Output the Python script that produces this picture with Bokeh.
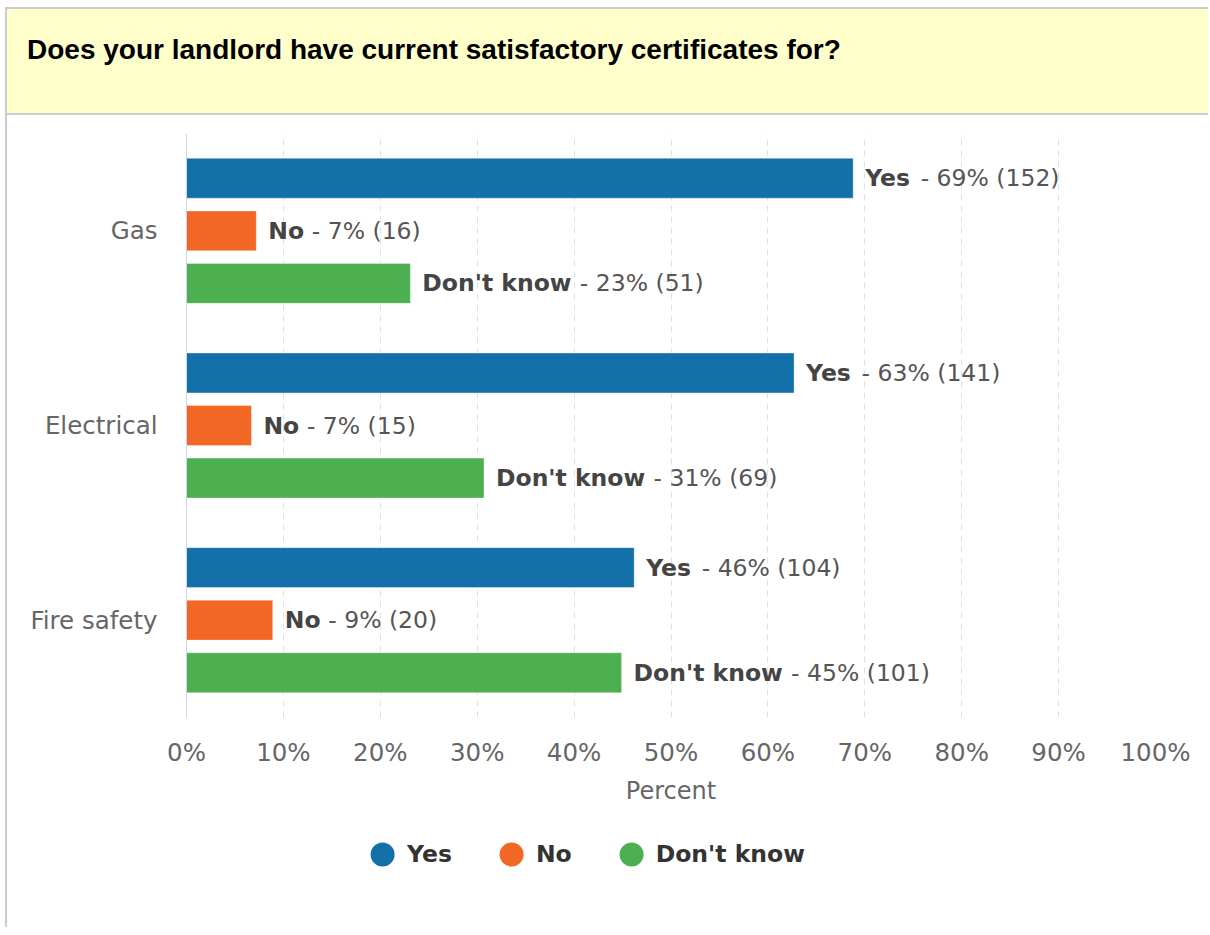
import numpy as np
from bokeh.plotting import figure
from bokeh.models import (Range1d, FactorRange, FixedTicker, PrintfTickFormatter,
                          ColumnDataSource, Legend, LegendItem, Div)
from bokeh.transform import dodge
from bokeh.layouts import column, row
from bokeh.core.properties import value
from bokeh.embed import file_html
from bokeh.resources import INLINE

# ---------------- data ----------------
title_text = "Does your landlord have current satisfactory certificates for?"
categories = ["Gas", "Electrical", "Fire safety"]
series = ["Yes", "No", "Don't know"]
yes_pct = [68.8, 62.7, 46.2]
no_pct = [7.2, 6.7, 8.9]
dk_pct = [23.1, 30.7, 44.9]
yes_count = [152, 141, 104]
no_count = [16, 15, 20]
dk_count = [51, 69, 101]
x_ticks = [0, 10, 20, 30, 40, 50, 60, 70, 80, 90, 100]
x_label = "Percent"

# ---------------- styles ----------------
colors = ["#1470a8", "#f26724", "#4caf50"]
offsets = [0.27, 0.0, -0.27]          # vertical dodge within a group
bold_widths = [48, 36, 150]           # px width of bold series name
SPACE = 7.5                           # px width of a space
FONT = "DejaVu Sans"
FS = "23.5px"
FS_AX = "24.5px"

W = 1201
HEAD_H = 108
MAIN_H = 700
LEG_H = 112
LEG_W = 1022

p = figure(width=W, height=MAIN_H, output_backend="svg", toolbar_location=None,
           x_range=Range1d(0, 100), y_range=FactorRange(*categories[::-1], range_padding=0),
           min_border_left=179, min_border_right=53, min_border_top=18, min_border_bottom=98)
p.outline_line_color = None
p.background_fill_color = "white"
p.border_fill_color = "white"

# bars + labels
pcts = [yes_pct, no_pct, dk_pct]
counts = [yes_count, no_count, dk_count]
for s, name in enumerate(series):
    src = ColumnDataSource(dict(
        cat=categories,
        pct=pcts[s],
        name=[name] * len(categories),
        rest=["- %d%% (%d)" % (round(v), c) for v, c in zip(pcts[s], counts[s])],
    ))
    y = dodge("cat", offsets[s], range=p.y_range)
    p.hbar(y=y, right="pct", left=0, height=0.205, source=src,
           fill_color=colors[s], line_color="white", line_alpha=0.35, line_width=1)
    p.text(x="pct", y=y, text="name", source=src, x_offset=12,
           text_font=value(FONT), text_font_size=FS, text_font_style="bold",
           text_color="#444444", text_baseline="middle", text_align="left")
    p.text(x="pct", y=y, text="rest", source=src, x_offset=12 + bold_widths[s] + SPACE,
           text_font=value(FONT), text_font_size=FS,
           text_color="#555555", text_baseline="middle", text_align="left")

# axes
p.xaxis.ticker = FixedTicker(ticks=x_ticks)
p.xaxis.formatter = PrintfTickFormatter(format="%d%%")
p.xaxis.axis_label = x_label
p.xaxis.axis_line_color = None
p.xaxis.major_tick_line_color = None
p.xaxis.minor_tick_line_color = None
p.xaxis.major_label_text_font = FONT
p.xaxis.major_label_text_font_size = FS_AX
p.xaxis.major_label_text_color = "#666666"
p.xaxis.major_label_standoff = 14
p.xaxis.axis_label_text_font = FONT
p.xaxis.axis_label_text_font_size = "24px"
p.xaxis.axis_label_text_font_style = "normal"
p.xaxis.axis_label_text_color = "#666666"
p.xaxis.axis_label_standoff = 7

p.yaxis.axis_line_color = "#ccd6eb"
p.yaxis.axis_line_width = 1
p.yaxis.major_tick_line_color = None
p.yaxis.minor_tick_line_color = None
p.yaxis.major_label_text_font = FONT
p.yaxis.major_label_text_font_size = FS_AX
p.yaxis.major_label_text_color = "#666666"
p.yaxis.major_label_standoff = 23

p.ygrid.grid_line_color = None
p.xgrid.grid_line_color = "#e0e0e0"
p.xgrid.grid_line_dash = "6 5"
p.xgrid.grid_line_width = 1

# legend in its own strip below the chart, with circle markers
lf = figure(width=LEG_W, height=LEG_H, output_backend="svg", toolbar_location=None,
            x_range=Range1d(0, 1), y_range=Range1d(0, 1),
            min_border=0, min_border_left=0, min_border_right=0,
            min_border_top=0, min_border_bottom=0)
lf.axis.visible = False
lf.grid.visible = False
lf.outline_line_color = None
lf.background_fill_color = "white"
lf.border_fill_color = "white"
items = []
for s, name in enumerate(series):
    r = lf.scatter(x=np.array([np.nan]), y=np.array([np.nan]), marker="circle", size=20,
                   fill_color=colors[s], line_color=colors[s], line_width=4)
    items.append(LegendItem(label=name, renderers=[r]))
legend = Legend(items=items, orientation="horizontal", location="top_center",
                glyph_width=50, glyph_height=60, label_standoff=0, spacing=34,
                padding=0, margin=9, border_line_color=None, background_fill_alpha=0,
                label_text_font=FONT, label_text_font_size=FS, label_text_font_style="bold",
                label_text_color="#333333")
lf.add_layout(legend, "center")

header = Div(
    text='<span style="font-family: \'Liberation Sans\', Arial, sans-serif; font-size: 28px; '
         'font-weight: bold; color: #000;">' + title_text + '</span>',
    width=W, height=HEAD_H, margin=0,
    styles={"background-color": "#ffffcc", "border-top": "2px solid #cccccc",
            "border-bottom": "2px solid #cccccc", "box-sizing": "border-box",
            "padding-left": "20px", "padding-top": "21px"})

border = Div(text="", width=2, height=HEAD_H + MAIN_H + LEG_H, margin=0,
             styles={"background-color": "#cccccc"})

layout = row(border, column(header, p, lf, spacing=0, margin=0), spacing=0,
             margin=(7, 0, 0, 5))

open("out.html", "w").write(file_html(layout, INLINE))
